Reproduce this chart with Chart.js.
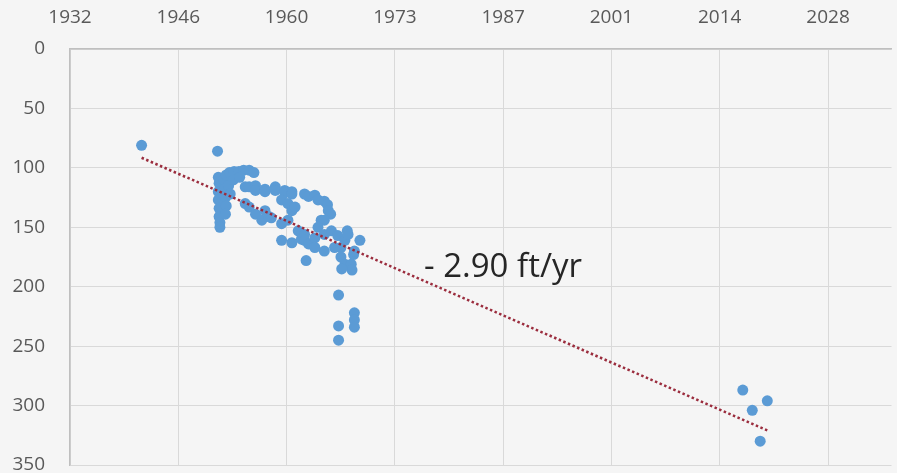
<!DOCTYPE html>
<html>
<head>
<meta charset="utf-8">
<script src="https://cdn.jsdelivr.net/npm/chart.js@4"></script>
<style>
  html, body { margin: 0; padding: 0; background: #f5f5f5; }
</style>
</head>
<body>
<canvas id="wellChart" width="897" height="473"></canvas>
<script>
const years = [
    1941.9, 1951.5, 1951.6, 1951.7, 1951.6, 1951.6, 1951.7, 1951.7, 1951.8, 1951.8,
    1952.3, 1952.4, 1952.5, 1952.6, 1952.5, 1952.9, 1953.1, 1952.6, 1953.0, 1953.6,
    1954.2, 1954.8, 1955.5, 1956.1, 1953.5, 1954.3, 1955.0, 1955.5, 1956.3, 1956.3,
    1957.5, 1957.5, 1958.8, 1958.8, 1960.0, 1960.0, 1960.9, 1960.9, 1962.5, 1963.0,
    1963.8, 1964.2, 1965.0, 1965.4, 1965.5, 1965.8, 1964.6, 1965.0, 1955.0, 1955.5,
    1956.3, 1957.1, 1957.5, 1958.0, 1958.3, 1959.6, 1960.4, 1961.7, 1962.5, 1959.6,
    1960.4, 1960.9, 1961.3, 1959.6, 1960.9, 1962.1, 1962.5, 1963.0, 1963.8, 1964.2,
    1965.0, 1965.9, 1966.7, 1967.9, 1963.8, 1965.0, 1966.3, 1967.1, 1967.6, 1968.0,
    1967.1, 1967.6, 1968.7, 1962.7, 1969.5, 1968.8, 1968.4, 1968.5, 1967.2, 1966.8,
    1966.8, 1966.8, 1968.8, 1968.8, 1968.8, 2017.9, 2021.0, 2019.1, 2020.1
];
const depths = [
    81, 86, 108, 113, 120, 127, 134, 141, 146, 150,
    110, 118, 125, 132, 139, 115, 122, 106, 104, 103,
    103, 102, 102, 104, 110, 108, 116, 116, 115, 119,
    118, 120, 116, 119, 119, 121, 120, 122, 122, 124,
    123, 127, 128, 131, 136, 139, 144, 144, 130, 133,
    139, 144, 136, 141, 142, 147, 144, 153, 156, 127,
    130, 136, 133, 161, 163, 160, 161, 164, 159, 150,
    156, 153, 157, 153, 167, 170, 167, 167, 161, 156,
    175, 181, 173, 178, 161, 170, 181, 186, 185, 207,
    233, 245, 222, 228, 234, 287, 296, 304, 330
];

// Linear trend, end points
const trendYears = [1941.9, 2021.0];
const trendDepths = [91.5, 320.9];
const trendLabel = '- 2.90 ft/yr';

// Excel-style date axis: one tick every 5000 days
const xTickValues = [1932.85, 1946.54, 1960.23, 1973.92, 1987.61, 2001.30, 2014.98, 2028.68];
const xTickLabels = ['1932', '1946', '1960', '1973', '1987', '2001', '2014', '2028'];

const points = years.map((y, i) => ({ x: y, y: depths[i] }));
const trend = trendYears.map((y, i) => ({ x: y, y: trendDepths[i] }));

const background = {
    id: 'background',
    beforeDraw(chart) {
        const ctx = chart.ctx;
        ctx.save();
        ctx.fillStyle = '#f5f5f5';
        ctx.fillRect(0, 0, chart.width, chart.height);
        ctx.restore();
    }
};

const rateLabel = {
    id: 'rateLabel',
    afterDatasetsDraw(chart) {
        const { ctx, scales } = chart;
        const px = scales.x.getPixelForValue(1977.6);
        const py = scales.y.getPixelForValue(184);
        ctx.save();
        ctx.font = '33px "Open Sans"';
        ctx.fillStyle = '#262626';
        ctx.textAlign = 'left';
        ctx.textBaseline = 'middle';
        ctx.fillText(trendLabel, px, py);
        ctx.restore();
    }
};

const tickFont = { family: 'Open Sans', size: 19 };

new Chart(document.getElementById('wellChart'), {
    type: 'scatter',
    data: {
        datasets: [
            {
                type: 'line',
                data: trend,
                borderColor: '#9b2d3e',
                borderWidth: 2.5,
                borderDash: [2.5, 2.5],
                pointRadius: 0,
                fill: false
            },
            {
                data: points,
                backgroundColor: '#5b9bd5',
                borderWidth: 0,
                pointRadius: 5.5
            }
        ]
    },
    options: {
        responsive: false,
        maintainAspectRatio: false,
        animation: false,
        layout: {
            padding: { left: 0, right: 0, top: 0, bottom: 8 }
        },
        plugins: {
            legend: { display: false },
            tooltip: { enabled: false }
        },
        scales: {
            x: {
                type: 'linear',
                position: 'top',
                min: 1932.85,
                max: 2036.7,
                afterFit: (scale) => { scale.height = 49; },
                afterBuildTicks: (scale) => {
                    scale.ticks = xTickValues.map(v => ({ value: v }));
                },
                grid: { color: '#d9d9d9', lineWidth: 1, drawTicks: false },
                border: { color: '#bfbfbf', width: 1.5 },
                ticks: {
                    autoSkip: false,
                    maxRotation: 0,
                    padding: 20,
                    color: '#595959',
                    font: tickFont,
                    callback: (value, index) => xTickLabels[index]
                }
            },
            y: {
                reverse: true,
                min: 0,
                max: 350,
                afterFit: (scale) => { scale.width = 70; },
                // tick marks kept invisible; their length pushes the labels left
                grid: { color: '#d9d9d9', lineWidth: 1, drawTicks: true, tickLength: 29, tickColor: 'rgba(0,0,0,0)' },
                border: { color: '#bfbfbf', width: 1.5 },
                ticks: {
                    stepSize: 50,
                    padding: -4,
                    color: '#595959',
                    font: tickFont
                }
            }
        }
    },
    plugins: [background, rateLabel]
});
</script>
</body>
</html>
